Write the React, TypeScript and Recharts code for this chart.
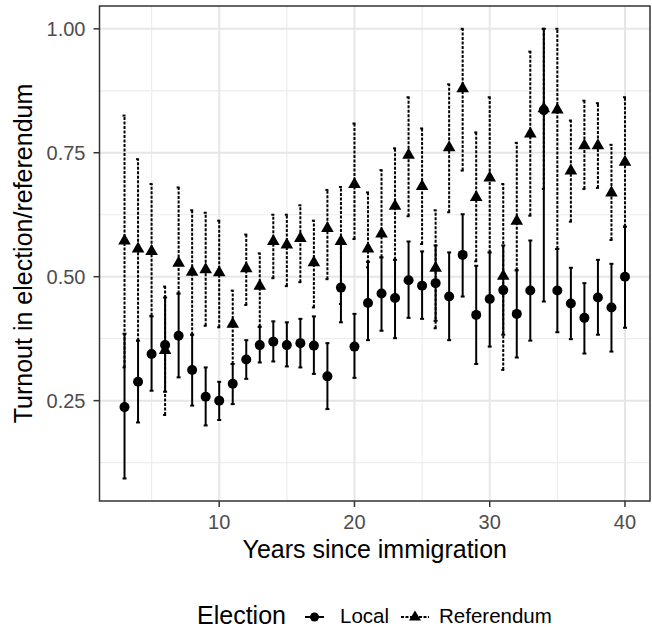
import React from 'react';
import { ScatterChart, Scatter, XAxis, YAxis, CartesianGrid, ErrorBar, ReferenceArea, Legend, Label } from 'recharts';

const years = [3, 4, 5, 6, 7, 8, 9, 10, 11, 12, 13, 14, 15, 16, 17, 18, 19, 20, 21, 22, 23, 24, 25, 26, 27, 28, 29, 30, 31, 32, 33, 34, 35, 36, 37, 38, 39, 40];

const localMean = [0.237, 0.288, 0.344, 0.362, 0.381, 0.312, 0.258, 0.250, 0.284, 0.333, 0.362, 0.369, 0.362, 0.366, 0.361, 0.299, 0.478, 0.359, 0.447, 0.466, 0.457, 0.493, 0.482, 0.487, 0.460, 0.544, 0.423, 0.455, 0.473, 0.425, 0.472, 0.836, 0.472, 0.446, 0.417, 0.458, 0.438, 0.500];
const localLow = [0.093, 0.206, 0.270, 0.268, 0.297, 0.240, 0.200, 0.211, 0.243, 0.294, 0.327, 0.329, 0.319, 0.317, 0.304, 0.233, 0.408, 0.296, 0.372, 0.391, 0.376, 0.417, 0.415, 0.411, 0.372, 0.460, 0.324, 0.359, 0.383, 0.337, 0.371, 0.450, 0.388, 0.374, 0.345, 0.383, 0.349, 0.397];
const localHigh = [0.385, 0.371, 0.420, 0.458, 0.466, 0.383, 0.317, 0.288, 0.324, 0.372, 0.399, 0.410, 0.408, 0.415, 0.420, 0.366, 0.566, 0.425, 0.530, 0.539, 0.534, 0.571, 0.551, 0.563, 0.549, 0.626, 0.522, 0.549, 0.563, 0.513, 0.573, 1.000, 0.556, 0.518, 0.487, 0.534, 0.526, 0.601];

const refMean = [0.573, 0.557, 0.552, 0.352, 0.528, 0.510, 0.515, 0.509, 0.405, 0.517, 0.482, 0.572, 0.565, 0.578, 0.529, 0.598, 0.572, 0.687, 0.557, 0.587, 0.643, 0.746, 0.683, 0.518, 0.761, 0.880, 0.661, 0.700, 0.502, 0.613, 0.789, 0.840, 0.837, 0.714, 0.765, 0.765, 0.670, 0.732];
const refLow = [0.317, 0.371, 0.421, 0.221, 0.466, 0.383, 0.401, 0.398, 0.324, 0.443, 0.399, 0.497, 0.481, 0.489, 0.438, 0.495, 0.445, 0.576, 0.519, 0.539, 0.534, 0.622, 0.566, 0.396, 0.630, 0.714, 0.531, 0.549, 0.312, 0.513, 0.623, 0.677, 0.556, 0.611, 0.677, 0.679, 0.574, 0.601];
const refHigh = [0.825, 0.737, 0.687, 0.480, 0.680, 0.634, 0.629, 0.613, 0.472, 0.585, 0.547, 0.625, 0.625, 0.644, 0.613, 0.675, 0.681, 0.809, 0.670, 0.715, 0.759, 0.862, 0.799, 0.634, 0.888, 1.000, 0.791, 0.862, 0.687, 0.770, 0.954, 1.000, 1.000, 0.815, 0.855, 0.850, 0.766, 0.862];

const xTicks = [10, 20, 30, 40];
const xMinor = [5, 15, 25, 35];
const yTicks = [0.25, 0.5, 0.75, 1.0];
const yMinor = [0.125, 0.375, 0.625, 0.875];

const X_DOMAIN: [number, number] = [1.15, 41.85];
const Y_DOMAIN: [number, number] = [0.0476, 1.046];

const FONT = '"Liberation Sans", Arial, Helvetica, sans-serif';

const localData = years.map((x, i) => ({ x, y: localMean[i], err: [localMean[i] - localLow[i], localHigh[i] - localMean[i]] }));
const refData = years.map((x, i) => ({ x, y: refMean[i], err: [refMean[i] - refLow[i], refHigh[i] - refMean[i]] }));

const Dot = (p: any) => <circle cx={p.cx} cy={p.cy} r={5} fill="#000" />;
const Tri = (p: any) => (
  <polygon points={`${p.cx},${p.cy - 7} ${p.cx - 6.3},${p.cy + 4} ${p.cx + 6.3},${p.cy + 4}`} fill="#000" />
);
const Empty = () => <g />;

const renderLegend = () => (
  <svg width={652} height={38} style={{ display: 'block' }}>
    <text x={197} y={32} fontSize={25} fontFamily={FONT} fill="#000">Election</text>
    <line x1={305} y1={25} x2={324} y2={25} stroke="#000" strokeWidth={2} />
    <circle cx={314.5} cy={25} r={4.5} fill="#000" />
    <text x={340} y={31} fontSize={20.5} fontFamily={FONT} fill="#000">Local</text>
    <line x1={401} y1={25} x2={429} y2={25} stroke="#000" strokeWidth={2} strokeDasharray="3 1.5" />
    <polygon points={`415,18.5 409,28.5 421,28.5`} fill="#000" />
    <text x={439} y={31} fontSize={20.5} fontFamily={FONT} fill="#000">Referendum</text>
  </svg>
);

export default function App() {
  return (
    <div style={{ position: 'absolute', left: 0, top: 0, background: '#fff' }}>
      <ScatterChart width={652} height={630} margin={{ top: 6, right: 2, bottom: 69, left: 0 }}>
        <CartesianGrid stroke="#EDEDED" strokeWidth={1.2} horizontalValues={yMinor} verticalValues={xMinor} />
        <CartesianGrid stroke="#E6E6E6" strokeWidth={2} horizontalValues={yTicks} verticalValues={xTicks} />
        <XAxis
          type="number"
          dataKey="x"
          domain={X_DOMAIN}
          ticks={xTicks}
          allowDataOverflow
          axisLine={false}
          tickLine={{ stroke: '#333', strokeWidth: 1.5 }}
          tickSize={6}
          tickMargin={8}
          tick={{ fill: '#4D4D4D', fontSize: 20, fontFamily: FONT }}
          height={60}
        >
          <Label
            content={(props: any) => {
              const vb = props.viewBox;
              return (
                <text x={vb.x + vb.width / 2} y={vb.y + 57} textAnchor="middle" fontSize={25} fontFamily={FONT} fill="#000">
                  Years since immigration
                </text>
              );
            }}
          />
        </XAxis>
        <YAxis
          type="number"
          dataKey="y"
          domain={Y_DOMAIN}
          ticks={yTicks}
          allowDataOverflow
          axisLine={false}
          tickLine={{ stroke: '#333', strokeWidth: 1.5 }}
          tickSize={6}
          tickMargin={8}
          tickFormatter={(v: number) => v.toFixed(2)}
          tick={{ fill: '#4D4D4D', fontSize: 20, fontFamily: FONT }}
          width={99.5}
        >
          <Label
            content={(props: any) => {
              const vb = props.viewBox;
              const cy = vb.y + vb.height / 2;
              return (
                <text x={32} y={cy} transform={`rotate(-90, 32, ${cy})`} textAnchor="middle" fontSize={25} fontFamily={FONT} fill="#000">
                  Turnout in election/referendum
                </text>
              );
            }}
          />
        </YAxis>
        <Scatter name="RefErr" data={refData} dataKey="y" shape={Empty} isAnimationActive={false} legendType="none">
          <ErrorBar dataKey="err" direction="y" width={2} stroke="#000" strokeWidth={2} strokeDasharray="3 1.5" isAnimationActive={false} />
        </Scatter>
        <Scatter name="LocalErr" data={localData} dataKey="y" shape={Empty} isAnimationActive={false} legendType="none">
          <ErrorBar dataKey="err" direction="y" width={2} stroke="#000" strokeWidth={2} isAnimationActive={false} />
        </Scatter>
        <Scatter name="Referendum" data={refData} dataKey="y" shape={Tri} isAnimationActive={false} />
        <Scatter name="Local" data={localData} dataKey="y" shape={Dot} isAnimationActive={false} />
        <ReferenceArea x1={X_DOMAIN[0]} x2={X_DOMAIN[1]} y1={Y_DOMAIN[0]} y2={Y_DOMAIN[1]} fill="none" fillOpacity={0} stroke="#333" strokeWidth={1.5} ifOverflow="visible" />
        <Legend
          layout="horizontal"
          verticalAlign="middle"
          align="center"
          content={renderLegend}
          wrapperStyle={{ position: 'absolute', left: 0, top: 592, width: 652, height: 38 }}
        />
      </ScatterChart>
    </div>
  );
}
